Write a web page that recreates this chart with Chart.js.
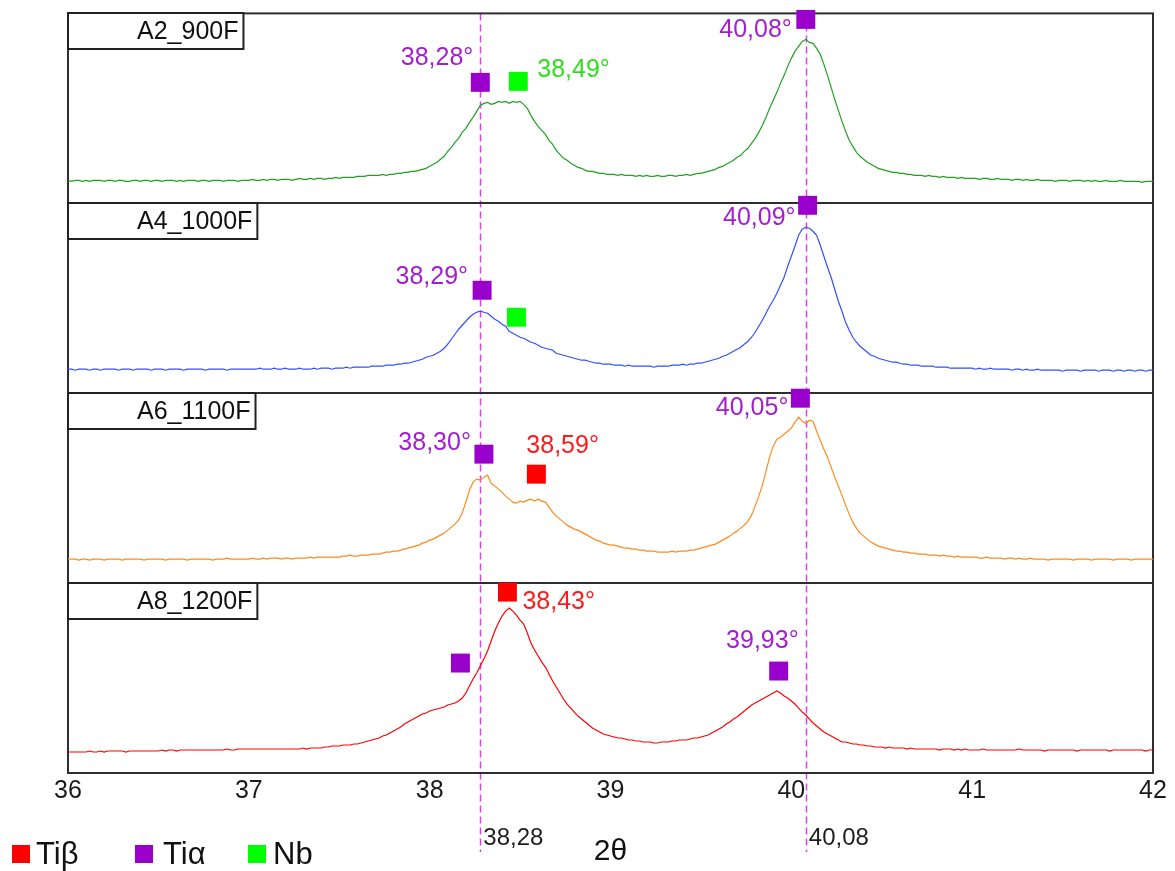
<!DOCTYPE html>
<html>
<head>
<meta charset="utf-8">
<script src="https://cdn.jsdelivr.net/npm/chart.js@4.4.1/dist/chart.umd.min.js"></script>
<style>
  html, body { margin: 0; padding: 0; background: #ffffff; }
  #wrap { width: 1175px; height: 871px; position: relative; }
</style>
</head>
<body>
<div id="wrap"><canvas id="xrd" width="1175" height="871"></canvas></div>
<script>
// Scan axis: 2θ from 36° to 42° in 0.02° steps (301 points)
const twoTheta = Array.from({ length: 301 }, (_, i) => +(36 + i * 0.02).toFixed(2));

const sampleNames = ['A2_900F', 'A4_1000F', 'A6_1100F', 'A8_1200F'];

// Diffracted intensity (arbitrary units), one row per half degree
const intensityA2 = [
  23,22,23,23,22, 23,22,23,23,23, 22,23,23,22,23, 23,22,22,23,23, 22,23,23,22,23,
  23,22,23,23,23, 22,23,22,23,23, 23,22,23,23,22, 23,23,23,22,23, 23,23,22,23,23,
  23,24,23,23,24, 23,24,24,23,24, 24,24,23,24,25, 24,24,25,24,25, 25,24,25,25,26,
  25,26,26,26,26, 27,27,27,28,28, 28,28,29,28,29, 29,30,30,31,31, 32,32,33,34,35,
  37,39,41,44,47, 52,56,61,65,71, 75,81,86,92,98, 100,101,99,100,102, 101,102,100,102,101,
  102,99,95,88,82, 77,73,69,63,59, 53,49,45,43,40, 38,36,35,33,32, 32,31,30,30,29,
  29,29,28,29,28, 28,28,27,28,27, 28,27,27,28,27, 27,28,28,27,28, 28,29,28,29,30,
  30,31,32,33,34, 36,37,39,41,43, 46,48,52,55,60, 65,71,78,86,95, 103,111,120,128,137,
  145,152,157,162,164, 161,160,155,149,139, 128,116,104,93,82, 72,63,57,51,47, 44,41,39,37,35,
  34,33,32,31,31, 30,30,29,29,28, 28,28,27,28,27, 27,26,27,26,26, 26,25,26,25,25,
  25,25,24,25,25, 24,24,25,24,24, 24,23,24,24,23, 24,23,23,24,23, 23,23,23,22,23,
  23,23,22,23,23, 23,22,23,22,23, 22,22,23,22,22, 22,23,22,22,22, 22,22,21,22,22,
  22
];
const intensityA4 = [
  24,24,23,24,24, 24,23,24,24,23, 24,24,24,24,23, 24,24,24,23,24, 24,24,24,23,24,
  24,24,23,24,24, 24,24,23,24,24, 24,24,24,23,24, 24,24,24,24,23, 24,24,24,24,24,
  24,24,24,25,24, 24,24,25,24,24, 25,24,24,24,25, 24,24,24,25,24, 25,25,25,24,25,
  25,25,26,25,26, 26,26,26,26,27, 27,27,27,28,28, 28,29,29,30,30, 31,32,33,34,36,
  37,38,40,42,45, 49,54,59,64,68, 72,76,79,81,82, 81,80,77,74,72, 69,67,62,60,58,
  56,55,53,51,50, 48,46,45,44,43, 40,39,38,37,36, 35,34,33,33,32, 31,30,30,29,29,
  29,28,28,28,27, 28,27,27,27,27, 27,27,26,27,27, 27,27,28,28,28, 29,28,29,29,30,
  30,31,32,33,34, 35,37,38,40,42, 44,46,49,52,56, 61,67,73,80,87, 93,100,108,116,127,
  137,147,158,164,166, 165,162,158,148,137, 126,116,104,92,82, 71,63,56,51,47, 44,41,38,37,35,
  34,33,32,31,31, 30,29,29,28,28, 28,27,27,27,27, 26,26,26,26,25, 25,25,25,25,25,
  25,24,25,24,24, 25,24,24,24,24, 24,23,24,24,23, 24,23,23,24,23, 23,23,23,23,23,
  22,23,23,23,23, 22,23,23,23,23, 22,23,23,23,22, 23,23,22,23,23, 22,23,23,22,23,
  23
];
const intensityA6 = [
  24,24,24,23,24, 24,23,24,24,24, 23,24,24,24,24, 23,24,24,24,24, 24,23,24,24,24,
  24,24,23,24,24, 24,24,24,23,24, 24,24,24,24,24, 23,24,24,24,25, 24,24,24,24,24,
  24,25,24,24,25, 24,25,25,25,24, 25,25,24,25,25, 25,25,26,25,26, 26,26,26,26,26,
  26,27,27,28,27, 27,28,28,28,29, 29,29,30,31,31, 32,32,33,34,35, 36,37,38,40,41,
  43,44,46,48,50, 53,56,59,63,70, 81,93,101,104,103, 106,108,100,97,94, 91,87,84,81,80,
  82,81,83,84,82, 84,82,81,76,71, 67,64,61,58,56, 54,53,51,49,47, 45,43,42,40,39,
  38,38,37,36,35, 35,34,34,33,33, 32,32,32,31,31, 31,31,32,31,32, 32,32,33,33,34,
  35,36,37,38,39, 41,43,45,47,50, 52,55,58,62,68, 77,87,98,112,126, 137,144,146,149,152,
  155,161,166,162,160, 163,162,152,143,134, 126,116,106,97,88, 78,69,61,55,50, 47,44,41,39,37,
  36,35,34,33,32, 32,31,31,30,30, 29,29,29,28,28, 28,27,28,27,27, 26,27,26,26,26,
  26,26,25,25,26, 25,25,25,25,24, 25,25,24,25,24, 24,25,24,24,24, 24,23,24,24,24,
  24,24,24,23,24, 24,24,24,23,24, 24,24,24,24,23, 24,24,24,24,23, 24,24,24,24,24,
  24
];
const intensityA8 = [
  21,21,21,21,21, 21,22,21,21,22, 21,22,22,22,22, 22,21,22,22,22, 22,22,22,22,22,
  22,23,22,23,23, 22,23,23,23,23, 23,23,23,23,23, 23,23,23,23,24, 23,23,24,24,24,
  24,24,24,24,24, 24,24,24,24,24, 24,24,24,24,24, 25,24,25,25,25, 25,26,26,27,27,
  27,28,28,28,29, 29,30,31,32,33, 34,35,37,38,40, 42,44,46,49,51, 53,55,57,59,60,
  62,63,64,65,66, 68,69,70,72,75, 80,87,94,100,107, 114,122,132,142,150, 157,162,165,162,158,
  153,149,140,130,123, 117,111,106,99,92, 86,80,74,69,65, 61,57,54,51,48, 45,43,41,39,38,
  37,36,35,35,34, 33,33,32,32,31, 31,31,30,30,31, 31,31,32,32,33, 33,33,34,35,35,
  36,37,38,40,42, 44,46,49,51,54, 56,59,62,65,68, 70,72,74,76,78, 80,82,80,77,75,
  72,69,65,61,58, 54,50,47,44,41, 39,37,35,33,31, 31,30,29,29,28, 28,27,27,26,26,
  26,25,26,25,25, 25,25,24,25,24, 24,24,24,24,24, 24,23,24,24,24, 23,24,23,24,23,
  23,23,23,24,23, 23,23,23,23,23, 23,23,23,24,23, 23,23,23,23,23, 22,23,23,23,23,
  23,23,23,23,22, 23,23,23,23,23, 23,23,23,22,23, 23,23,23,23,23, 23,23,23,22,23,
  23
];
const intensities = [intensityA2, intensityA4, intensityA6, intensityA8];

// Phase peak markers per sample: 2θ position and marker height
const tiBetaAngles   = [[], [], [38.59], [38.43]];
const tiBetaHeights  = [[], [], [109], [181]];
const tiAlphaAngles  = [[38.28, 40.08], [38.29, 40.09], [38.30, 40.05], [38.17, 39.93]];
const tiAlphaHeights = [[121, 184], [103, 188], [129, 185], [110, 102]];
const nbAngles       = [[38.49], [38.48], [], []];
const nbHeights      = [[122], [76], [], []];

const phaseNames = ['Tiβ', 'Tiα', 'Nb'];

// Reference positions marked by the dashed guides
const guideAngles = [38.28, 40.08];

// ---- styling ----
const FONT = "'Liberation Sans', Arial, Helvetica, sans-serif";
const lineColors = ['#22a022', '#3050ff', '#ff8a1c', '#ff0000'];
const phaseFill = ['#ff0000', '#9900cc', '#00ff00'];
const phaseText = ['#ff1a1a', '#a21ed0', '#2ee01a'];
const panelIds = ['y1', 'y2', 'y3', 'y4'];

// where each peak tag sits relative to its marker (px); markers without an entry carry no tag
const tagPlacement = {
  '0:38.28': { align: 'right', dx: -7,  dy: -24 },
  '0:38.49': { align: 'left',  dx: 19,  dy: -11 },
  '0:40.08': { align: 'right', dx: -14, dy: 11 },
  '1:38.29': { align: 'right', dx: -14, dy: -13 },
  '1:40.09': { align: 'right', dx: -12, dy: 13 },
  '2:38.30': { align: 'right', dx: -13, dy: -11 },
  '2:38.59': { align: 'left',  dx: -10, dy: -28 },
  '2:40.05': { align: 'right', dx: -12, dy: 10 },
  '3:38.43': { align: 'left',  dx: 15,  dy: 10 },
  '3:39.93': { align: 'right', dx: 20,  dy: -30 }
};

const fmt = v => v.toFixed(2).replace('.', ',');

// ---- datasets ----
const datasets = [];
sampleNames.forEach((name, p) => {
  datasets.push({
    type: 'line',
    label: name,
    data: twoTheta.map((x, j) => ({ x, y: intensities[p][j] })),
    yAxisID: panelIds[p],
    borderColor: lineColors[p],
    borderWidth: 1.2,
    pointRadius: 0,
    tension: 0,
    fill: false,
    order: 2
  });
});

const phaseAngles = [tiBetaAngles, tiAlphaAngles, nbAngles];
const phaseHeights = [tiBetaHeights, tiAlphaHeights, nbHeights];
sampleNames.forEach((_, p) => {
  phaseNames.forEach((ph, k) => {
    const angles = phaseAngles[k][p];
    if (!angles.length) return;
    datasets.push({
      type: 'scatter',
      label: ph,
      data: angles.map((a, n) => ({ x: a, y: phaseHeights[k][p][n] })),
      yAxisID: panelIds[p],
      pointStyle: 'rect',
      pointRadius: 13.4,
      backgroundColor: phaseFill[k],
      borderWidth: 0,
      showLine: false,
      clip: false,
      order: 1,
      panel: p,
      phase: k
    });
  });
});

// ---- scales: one shared 2θ axis, four stacked intensity panels ----
const scales = {
  x: {
    type: 'linear',
    position: 'bottom',
    min: 36,
    max: 42,
    grid: { display: false, drawTicks: false },
    border: { display: false },
    ticks: {
      stepSize: 1,
      padding: 3,
      color: '#1a1a1a',
      font: { family: FONT, size: 25 },
      callback: v => String(v)
    },
    title: {
      display: true,
      text: '2θ',
      color: '#111111',
      font: { family: FONT, size: 30 },
      padding: { top: 0, bottom: 1 }
    },
    afterFit: s => { s.height = 98; }
  }
};
panelIds.forEach((id, i) => {
  scales[id] = {
    type: 'linear',
    position: 'left',
    stack: 'panels',
    stackWeight: 1,
    weight: 4 - i,
    min: 0,
    max: 190,
    grid: { display: false, drawTicks: false },
    border: { display: false },
    ticks: { display: false }
  };
});

// ---- drawing helpers ----
const panelDecor = {
  id: 'panelDecor',
  beforeDatasetsDraw(chart) {
    const { ctx, chartArea: a, scales: sc } = chart;
    ctx.save();
    // dashed guides, running down past the axis
    ctx.strokeStyle = '#e03cf2';
    ctx.lineWidth = 1.5;
    ctx.setLineDash([7, 4]);
    guideAngles.forEach(v => {
      const x = Math.round(sc.x.getPixelForValue(v)) + 0.5;
      ctx.beginPath();
      ctx.moveTo(x, a.top);
      ctx.lineTo(x, 852);
      ctx.stroke();
    });
    ctx.setLineDash([]);

    // panel frames
    ctx.strokeStyle = '#2e2e2e';
    ctx.lineWidth = 2;
    ctx.strokeRect(a.left, a.top, a.right - a.left, a.bottom - a.top);
    panelIds.forEach((id, i) => {
      if (i === 0) return;
      const y = Math.round(sc[id].top);
      ctx.beginPath();
      ctx.moveTo(a.left, y);
      ctx.lineTo(a.right, y);
      ctx.stroke();
    });

    // sample name boxes
    ctx.font = `25px ${FONT}`;
    ctx.textBaseline = 'middle';
    ctx.textAlign = 'left';
    sampleNames.forEach((name, i) => {
      const top = Math.round(sc[panelIds[i]].top);
      const w = 69 + ctx.measureText(name).width + 5;
      ctx.fillStyle = '#ffffff';
      ctx.fillRect(a.left, top, w, 36);
      ctx.strokeStyle = '#222222';
      ctx.lineWidth = 2;
      ctx.strokeRect(a.left, top, w, 36);
      ctx.fillStyle = '#111111';
      ctx.fillText(name, a.left + 69, top + 19);
    });
    ctx.restore();
  },
  afterDatasetsDraw(chart) {
    const { ctx, scales: sc } = chart;
    ctx.save();
    // peak position tags
    ctx.font = `25px ${FONT}`;
    ctx.textBaseline = 'middle';
    chart.data.datasets.forEach((ds, di) => {
      if (ds.type !== 'scatter') return;
      const meta = chart.getDatasetMeta(di);
      ds.data.forEach((pt, n) => {
        const place = tagPlacement[`${ds.panel}:${pt.x.toFixed(2)}`];
        if (!place) return;
        const el = meta.data[n];
        ctx.fillStyle = phaseText[ds.phase];
        ctx.textAlign = place.align;
        ctx.fillText(fmt(pt.x) + '°', el.x + place.dx, el.y + place.dy);
      });
    });

    // guide values under the axis
    ctx.font = `24px ${FONT}`;
    ctx.fillStyle = '#1e1e1e';
    ctx.textAlign = 'left';
    guideAngles.forEach(v => {
      ctx.fillText(fmt(v), sc.x.getPixelForValue(v) + 3, 838);
    });

    // phase legend
    const boxLeft = [12, 135, 248];
    const textLeft = [36, 163, 273];
    ctx.font = `31px ${FONT}`;
    phaseNames.forEach((ph, k) => {
      ctx.fillStyle = phaseFill[k];
      ctx.fillRect(boxLeft[k], 845, 18, 18);
      ctx.fillStyle = '#111111';
      ctx.fillText(ph, textLeft[k], 855);
    });
    ctx.restore();
  }
};

new Chart(document.getElementById('xrd'), {
  type: 'line',
  data: { datasets },
  options: {
    responsive: false,
    animation: false,
    events: [],
    layout: { padding: { left: 68, right: 22, top: 11, bottom: 0 } },
    plugins: { legend: { display: false }, tooltip: { enabled: false } },
    scales
  },
  plugins: [panelDecor]
});
</script>
</body>
</html>
